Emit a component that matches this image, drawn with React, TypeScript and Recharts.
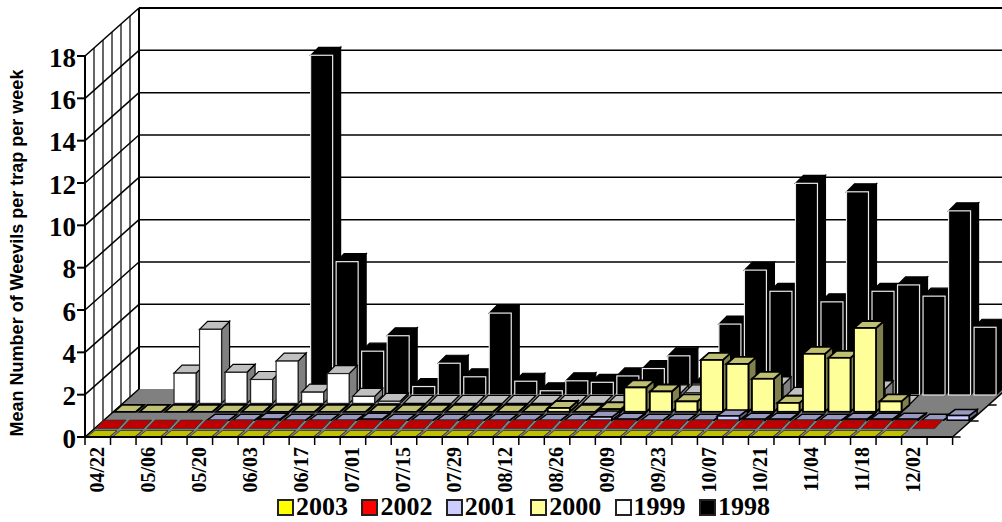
import { Bar, BarChart, CartesianGrid, Legend, XAxis, YAxis } from "recharts";

const weeks = [
  "04/22", "04/29", "05/06", "05/13", "05/20", "05/27", "06/03", "06/10", "06/17",
  "06/24", "07/01", "07/08", "07/15", "07/22", "07/29", "08/05", "08/12", "08/19",
  "08/26", "09/02", "09/09", "09/16", "09/23", "09/30", "10/07", "10/14", "10/21",
  "10/28", "11/04", "11/11", "11/18", "11/25", "12/02", "12/09",
];

const y2003 = [0, 0, 0, 0, 0, 0, 0, 0, 0, 0, 0, 0, 0, 0, 0, 0, 0, 0, 0, 0, 0, 0, 0, 0, 0, 0, 0, 0, 0, 0, 0, 0, null, null];
const y2002 = [0, 0, 0, 0, 0, 0, 0, 0, 0, 0, 0, 0, 0, 0, 0, 0, 0, 0, 0, 0, 0, 0, 0, 0, 0, 0, 0, 0, 0, 0, 0, 0, 0, null];
const y2001 = [null, null, null, null, 0, 0, 0.05, 0, 0, 0, 0.05, 0, 0, 0, 0, 0, 0, 0, 0, 0.15, 0.05, 0, 0, 0, 0.2, 0.05, 0.05, 0, 0, 0.05, 0.05, 0.05, 0, 0.22];
const y2000 = [0, 0, 0, 0, 0, 0, 0, 0, 0, 0, 0, 0, 0, 0, 0, 0, 0, 0.18, 0, 0.12, 1.15, 0.96, 0.49, 2.45, 2.26, 1.56, 0.42, 2.74, 2.55, 3.96, 0.49, null, null, null];
const y1999 = [null, null, 1.43, 3.5, 1.47, 1.13, 2.0, 0.53, 1.41, 0.33, 0.1, 0, 0, 0, 0, 0, 0, 0, 0, 0, 0, 0.5, 0.5, 0, 0, 0.87, 0.38, 0, 0, 0.68, 0, null, null, null];
const y1998 = [null, null, null, null, null, null, null, 16.05, 6.3, 2.07, 2.8, 0.4, 1.5, 0.86, 3.87, 0.65, 0.2, 0.67, 0.6, 0.9, 1.25, 1.85, 0.5, 3.35, 5.9, 4.9, 10.0, 4.4, 9.6, 4.9, 5.2, 4.67, 8.7, 3.2];

const yTicks = [0, 2, 4, 6, 8, 10, 12, 14, 16, 18];

const data = weeks.map((week, i) => ({
  week,
  y2003: y2003[i],
  y2002: y2002[i],
  y2001: y2001[i],
  y2000: y2000[i],
  y1999: y1999[i],
  y1998: y1998[i],
}));

// depth 0 is the front row, dy is how far the top face runs back
const series = [
  { key: "y2003", name: "2003", depth: 0, dy: 6.5, front: "#ffff00", top: "#c0c000", side: "#808000", stroke: "#333", sw: 0.8 },
  { key: "y2002", name: "2002", depth: 1, dy: 8.5, front: "#ff0000", top: "#c00000", side: "#800000", stroke: "#333", sw: 0.8 },
  { key: "y2001", name: "2001", depth: 2, dy: 6, front: "#ccccff", top: "#9999c0", side: "#666680", stroke: "#000", sw: 1.5 },
  { key: "y2000", name: "2000", depth: 3, dy: 7, front: "#ffff99", top: "#c0c073", side: "#80804d", stroke: "#000", sw: 1.8 },
  { key: "y1999", name: "1999", depth: 4, dy: 8, front: "#ffffff", top: "#c0c0c0", side: "#808080", stroke: "#222", sw: 1.2 },
  { key: "y1998", name: "1998", depth: 5, dy: 8, front: "#000000", top: "#000000", side: "#000000", stroke: "#e8e8e8", sw: 1.2 },
];

const SERIF = "'Liberation Serif', serif";
const WALL_DX = 54;
const WALL_DY = 48;
const ROW_DX = 9;
const ROW_DY = 8.4;
const BAR_DX = 8;
const BAND = (1002 - 49.4 - 85) / weeks.length;

function Bar3D(props: any) {
  const { x, y, width, height, payload, s } = props;
  if (payload[s.key] == null) return null;
  const left = x + s.depth * ROW_DX;
  const right = left + width;
  const base = y + height - s.depth * ROW_DY;
  const top = y - s.depth * ROW_DY;
  const edge = s.depth < 2 ? s.stroke : "#000";
  return (
    <g>
      <polygon
        points={`${right},${base} ${right + BAR_DX},${base - s.dy} ${right + BAR_DX},${top - s.dy} ${right},${top}`}
        fill={s.side}
        stroke={edge}
        strokeWidth={s.sw}
      />
      <polygon
        points={`${left},${top} ${right},${top} ${right + BAR_DX},${top - s.dy} ${left + BAR_DX},${top - s.dy}`}
        fill={s.top}
        stroke={edge}
        strokeWidth={s.sw}
      />
      {height > 0 && (
        <rect x={left} y={top} width={width} height={height} fill={s.front} stroke={s.stroke} strokeWidth={s.sw} />
      )}
    </g>
  );
}

// wall and floor lines hang off the grid's own y positions
function WallLine(props: any) {
  const { x1, x2, y1 } = props;
  const backY = y1 - WALL_DY;
  const isFloor = y1 > 400;
  const isTop = y1 < 60;
  return (
    <g>
      {isFloor && (
        <g>
          <polygon
            points={`${x1},${y1} ${x2},${y1} ${x2 + WALL_DX},${backY} ${x1 + WALL_DX},${backY}`}
            fill="#808080"
          />
          {[1, 2, 3, 4, 5, 6].map((k) => (
            <line
              key={k}
              x1={x1 + (k * WALL_DX) / 6}
              y1={y1 - (k * WALL_DY) / 6}
              x2={x1 + (k * WALL_DX) / 6}
              y2={y1 - (k * WALL_DY) / 6 - 381}
              stroke="#000"
              strokeWidth={k === 6 ? 2 : 1.2}
            />
          ))}
          <line x1={x2} y1={y1} x2={x2 + WALL_DX} y2={backY} stroke="#000" strokeWidth={1.5} />
          {[0, 2, 4, 6].map((k) => (
            <line
              key={k}
              x1={x2 + (k * WALL_DX) / 6}
              y1={y1 - (k * WALL_DY) / 6}
              x2={x2 + (k * WALL_DX) / 6 + 8}
              y2={y1 - (k * WALL_DY) / 6}
              stroke="#000"
              strokeWidth={1.5}
            />
          ))}
        </g>
      )}
      <line x1={x1} y1={y1} x2={x1 + WALL_DX} y2={backY} stroke="#000" strokeWidth={1.5} />
      {!isFloor && (
        <line x1={x1 + WALL_DX} y1={backY} x2={x2 + WALL_DX} y2={backY} stroke="#000" strokeWidth={isTop ? 2 : 1.5} />
      )}
    </g>
  );
}

function WeekTick(props: any) {
  const { x, payload, index } = props;
  const y = 437;
  const lx = x - BAND / 2;
  return (
    <g>
      <line x1={lx} y1={y} x2={lx} y2={y + 8} stroke="#000" strokeWidth={1.5} />
      {index === weeks.length - 1 && (
        <line x1={lx + BAND} y1={y} x2={lx + BAND} y2={y + 8} stroke="#000" strokeWidth={1.5} />
      )}
      {index % 2 === 0 && (
        <text
          transform={`translate(${x + 6},${y + 10}) rotate(-90)`}
          textAnchor="end"
          fontFamily={SERIF}
          fontWeight="bold"
          fontSize={20}
          fill="#000"
        >
          {payload.value}
        </text>
      )}
    </g>
  );
}

function YearLegend() {
  return (
    <div style={{ display: "flex", height: 30, alignItems: "center", fontFamily: SERIF, fontWeight: "bold", fontSize: 26, lineHeight: "30px", color: "#000" }}>
      {series.map((s) => (
        <span key={s.key} style={{ display: "flex", alignItems: "center", width: 84.4 }}>
          <span style={{ width: 13, height: 13, background: s.front, border: "2px solid #222", marginRight: 2 }} />
          {s.name}
        </span>
      ))}
    </div>
  );
}

export default function App() {
  return (
    <div style={{ position: "absolute", left: 0, top: 0, width: 1002, height: 522, overflow: "hidden", background: "#fff" }}>
      <BarChart
        width={1002}
        height={522}
        data={data}
        margin={{ top: 56, right: 49.4, left: 0, bottom: 0 }}
        barSize={22}
        barGap={-22}
        style={{ overflow: "visible" }}
      >
        <CartesianGrid horizontal={(p: any) => <WallLine key={p.key} {...p} />} vertical={false} syncWithTicks />
        <XAxis
          dataKey="week"
          interval={0}
          height={55}
          axisLine={{ stroke: "#000", strokeWidth: 2 }}
          tickLine={false}
          tick={<WeekTick />}
        />
        <YAxis
          width={85}
          domain={[0, 18]}
          ticks={yTicks}
          interval={0}
          tickSize={8}
          tickMargin={1}
          axisLine={{ stroke: "#000", strokeWidth: 2 }}
          tickLine={{ stroke: "#000", strokeWidth: 2 }}
          tick={{ fontFamily: SERIF, fontWeight: "bold", fontSize: 27, fill: "#000", dy: 1 }}
          label={{
            content: () => (
              <text
                transform="translate(23,253) rotate(-90)"
                textAnchor="middle"
                fontFamily="'Liberation Sans', Arial, sans-serif"
                fontWeight="bold"
                fontSize={18}
                fill="#000"
              >
                Mean Number of Weevils per trap per week
              </text>
            ),
          }}
        />
        <Legend
          content={<YearLegend />}
          verticalAlign="bottom"
          height={30}
          wrapperStyle={{ left: 277, bottom: 0, width: 560 }}
        />
        {[...series].reverse().map((s) => (
          <Bar
            key={s.key}
            dataKey={s.key}
            name={s.name}
            isAnimationActive={false}
            shape={(p: any) => <Bar3D {...p} s={s} />}
          />
        ))}
      </BarChart>
    </div>
  );
}
